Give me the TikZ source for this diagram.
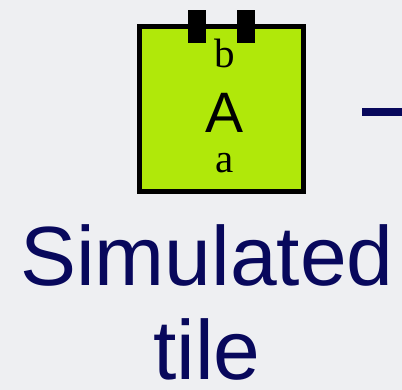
\documentclass[tikz,border=0pt]{standalone}
\usepackage{fontspec}
\setmainfont{Liberation Sans}
\newfontfamily\serifb{Liberation Serif}
\definecolor{bgc}{RGB}{238,239,242}
\definecolor{tilegreen}{RGB}{176,232,10}
\definecolor{navy}{RGB}{8,8,92}
\begin{document}
\begin{tikzpicture}[x=1pt,y=-1pt,
  tilebox/.style={draw=black,line width=5pt,fill=tilegreen,minimum width=163.5pt,minimum height=165pt,inner sep=0pt},
  tab/.style={fill=black,draw=none,minimum width=18pt,minimum height=33pt,inner sep=0pt},
  port/.style={font=\serifb\fontsize{41}{41}\selectfont,inner sep=0pt,anchor=base},
  bigtxt/.style={font=\fontsize{84}{94}\selectfont,text=navy,align=center,inner sep=0pt}]
\fill[bgc] (0,0) rectangle (402,390);
\useasboundingbox (0,0) rectangle (402,390);
\node[tilebox] (tile) at (221.25,109) {};
\node[tab] (tab1) at (197,26.5) {};
\node[tab] (tab2) at (246,26.5) {};
\node[inner sep=0pt,font=\fontsize{57}{57}\selectfont,anchor=base] (A) at (225,133) {A};
\node[port] (b) at (225,68) {b};
\node[port] (a) at (225,173) {a};
\coordinate (l1) at (362,112);
\coordinate (l2) at (402,112);
\draw[navy,line width=8pt] (l1) -- (l2);
\node[bigtxt,anchor=base] (t1) at (207,286) {Simulated};
\node[bigtxt,anchor=base] (t2) at (207,380) {tile};
\end{tikzpicture}
\end{document}
